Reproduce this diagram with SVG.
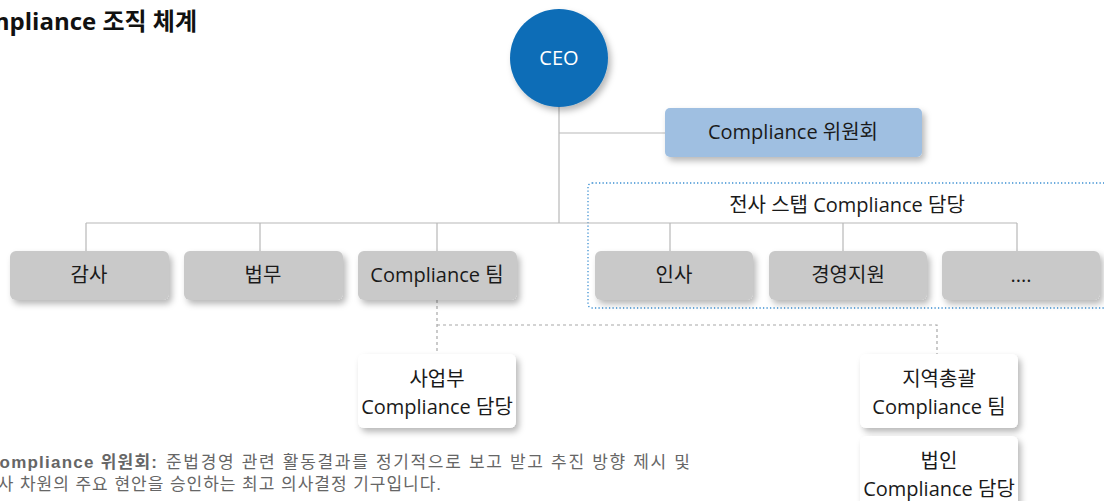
<svg xmlns="http://www.w3.org/2000/svg" width="1104" height="501" viewBox="0 0 1104 501">
<defs>
<filter id="sh" x="-20%" y="-30%" width="150%" height="180%">
<feDropShadow dx="3" dy="4" stdDeviation="3" flood-color="#000" flood-opacity="0.28"/>
</filter>
</defs>
<style>
.lbl{font-family:"Open Sans","Noto Sans CJK KR",sans-serif;font-size:20px;fill:#1a1a1a;text-anchor:middle}
.gray{fill:#c9c9c9}
.white{fill:#ffffff}
.conn{stroke:#b8b8b8;stroke-width:1.2;fill:none}
.dash{stroke:#a8a8a8;stroke-width:1.2;fill:none;stroke-dasharray:3 3}
.note{font-family:"Liberation Sans","Noto Sans CJK KR",sans-serif;font-size:17px;fill:#666666}
</style>
<rect width="1104" height="501" fill="#ffffff"/>
<text x="197" y="30" font-family="Open Sans, Noto Sans CJK KR, sans-serif" font-size="24" font-weight="bold" fill="#111" text-anchor="end">Compliance 조직 체계</text>

<g id="staff-group">
<rect x="588" y="183" width="530" height="125" rx="4" fill="none" stroke="#3b8fd2" stroke-width="1.3" stroke-dasharray="1.3 2.2"/>
<text class="lbl" x="847" y="212">전사 스탭 Compliance 담당</text>
</g>

<g id="connectors">
<path class="conn" d="M559 107 V223 M559 133 H665 M86 223 H1017 M86 223 V251 M260 223 V251 M437 223 V251 M670 223 V251 M843 223 V251 M1017 223 V251"/>
<path class="dash" d="M437 300 V354 M437 325 H937 V354"/>
</g>

<g id="ceo">
<circle cx="559" cy="58" r="49" fill="#0b6db7" filter="url(#sh)"/>
<text x="559" y="65" font-family="Open Sans, sans-serif" font-size="20" fill="#ffffff" text-anchor="middle">CEO</text>
</g>

<g id="committee">
<rect x="665" y="108" width="257" height="49" rx="5" fill="#9fbfe1" filter="url(#sh)"/>
<text class="lbl" x="793" y="139">Compliance 위원회</text>
</g>

<g id="audit">
<rect class="gray" x="10" y="251" width="159" height="49" rx="6" filter="url(#sh)"/>
<text class="lbl" x="89" y="282">감사</text>
</g>
<g id="legal">
<rect class="gray" x="184" y="251" width="159" height="49" rx="6" filter="url(#sh)"/>
<text class="lbl" x="263" y="282">법무</text>
</g>
<g id="compliance-team">
<rect class="gray" x="358" y="251" width="159" height="49" rx="6" filter="url(#sh)"/>
<text class="lbl" x="437" y="282">Compliance 팀</text>
</g>
<g id="hr">
<rect class="gray" x="595" y="251" width="158" height="49" rx="6" filter="url(#sh)"/>
<text class="lbl" x="674" y="282">인사</text>
</g>
<g id="mgmt">
<rect class="gray" x="769" y="251" width="158" height="49" rx="6" filter="url(#sh)"/>
<text class="lbl" x="848" y="282">경영지원</text>
</g>
<g id="etc">
<rect class="gray" x="942" y="251" width="158" height="49" rx="6" filter="url(#sh)"/>
<text class="lbl" x="1021" y="282">....</text>
</g>

<g id="division">
<rect class="white" x="358" y="354" width="158" height="74" rx="6" filter="url(#sh)"/>
<text class="lbl" x="437" y="386">사업부</text>
<text class="lbl" x="437" y="414">Compliance 담당</text>
</g>
<g id="regional">
<rect class="white" x="860" y="354" width="158" height="74" rx="6" filter="url(#sh)"/>
<text class="lbl" x="939" y="386">지역총괄</text>
<text class="lbl" x="939" y="414">Compliance 팀</text>
</g>
<g id="corporate">
<rect class="white" x="860" y="436" width="158" height="80" rx="6" filter="url(#sh)"/>
<text class="lbl" x="939" y="468">법인</text>
<text class="lbl" x="939" y="496">Compliance 담당</text>
</g>

<g id="note">
<text class="note" x="-14" y="468" font-weight="bold" fill="#555" textLength="171" lengthAdjust="spacing">Compliance 위원회:</text>
<text class="note" x="166" y="468" textLength="524" lengthAdjust="spacing">준법경영 관련 활동결과를 정기적으로 보고 받고 추진 방향 제시 및</text>
<text class="note" x="-19" y="490" textLength="460" lengthAdjust="spacing">전사 차원의 주요 현안을 승인하는 최고 의사결정 기구입니다.</text>
</g>
</svg>
